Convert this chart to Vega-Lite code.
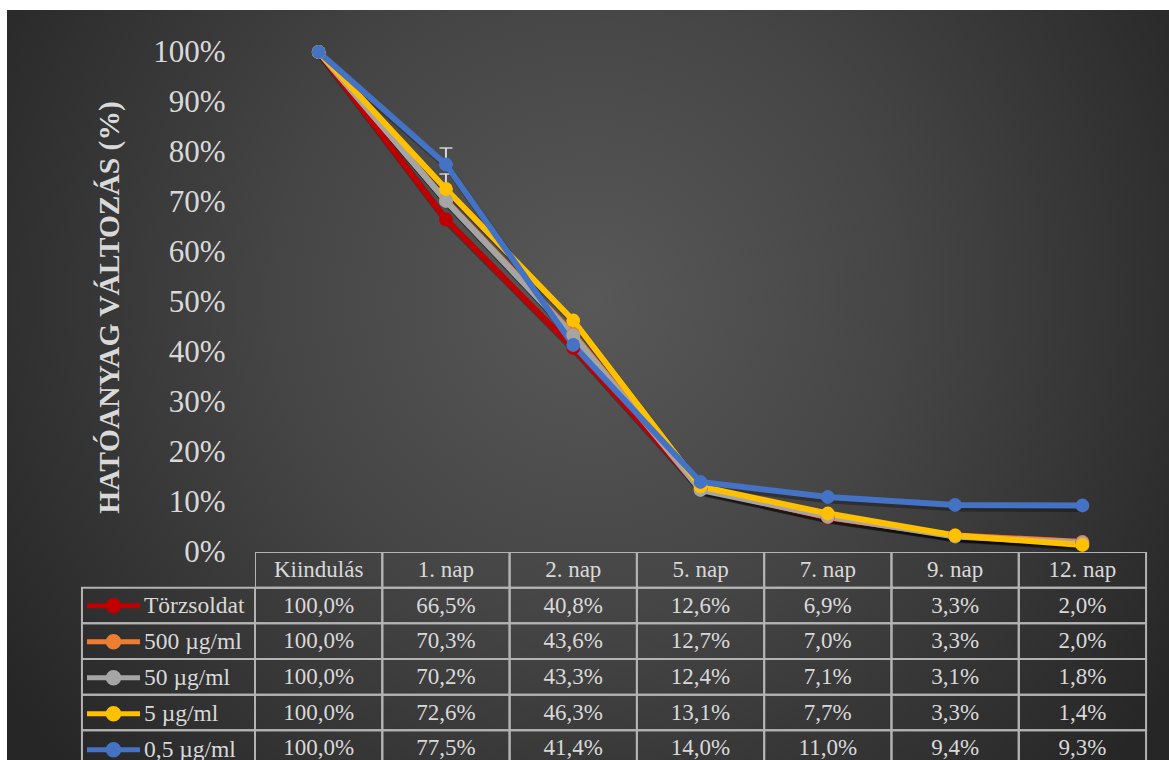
{
  "$schema": "https://vega.github.io/schema/vega-lite/v6.json",
  "background": "white",
  "padding": {"left": 7, "top": 10, "right": 0, "bottom": 0},
  "config": {
    "font": "Liberation Serif",
    "view": {"stroke": null},
    "locale": {"number": {"decimal": ",", "thousands": " ", "grouping": [3], "currency": ["", " Ft"]}}
  },
  "datasets": {
    "meres": [
      {"sorozat": "Törzsoldat", "nap": "Kiindulás", "ertek": 1.0},
      {"sorozat": "Törzsoldat", "nap": "1. nap", "ertek": 0.665},
      {"sorozat": "Törzsoldat", "nap": "2. nap", "ertek": 0.408},
      {"sorozat": "Törzsoldat", "nap": "5. nap", "ertek": 0.126},
      {"sorozat": "Törzsoldat", "nap": "7. nap", "ertek": 0.069},
      {"sorozat": "Törzsoldat", "nap": "9. nap", "ertek": 0.033},
      {"sorozat": "Törzsoldat", "nap": "12. nap", "ertek": 0.02},
      {"sorozat": "500 µg/ml", "nap": "Kiindulás", "ertek": 1.0},
      {"sorozat": "500 µg/ml", "nap": "1. nap", "ertek": 0.703},
      {"sorozat": "500 µg/ml", "nap": "2. nap", "ertek": 0.436},
      {"sorozat": "500 µg/ml", "nap": "5. nap", "ertek": 0.127},
      {"sorozat": "500 µg/ml", "nap": "7. nap", "ertek": 0.07},
      {"sorozat": "500 µg/ml", "nap": "9. nap", "ertek": 0.033},
      {"sorozat": "500 µg/ml", "nap": "12. nap", "ertek": 0.02},
      {"sorozat": "50 µg/ml", "nap": "Kiindulás", "ertek": 1.0},
      {"sorozat": "50 µg/ml", "nap": "1. nap", "ertek": 0.702},
      {"sorozat": "50 µg/ml", "nap": "2. nap", "ertek": 0.433},
      {"sorozat": "50 µg/ml", "nap": "5. nap", "ertek": 0.124},
      {"sorozat": "50 µg/ml", "nap": "7. nap", "ertek": 0.071},
      {"sorozat": "50 µg/ml", "nap": "9. nap", "ertek": 0.031},
      {"sorozat": "50 µg/ml", "nap": "12. nap", "ertek": 0.018},
      {"sorozat": "5 µg/ml", "nap": "Kiindulás", "ertek": 1.0},
      {"sorozat": "5 µg/ml", "nap": "1. nap", "ertek": 0.726},
      {"sorozat": "5 µg/ml", "nap": "2. nap", "ertek": 0.463},
      {"sorozat": "5 µg/ml", "nap": "5. nap", "ertek": 0.131},
      {"sorozat": "5 µg/ml", "nap": "7. nap", "ertek": 0.077},
      {"sorozat": "5 µg/ml", "nap": "9. nap", "ertek": 0.033},
      {"sorozat": "5 µg/ml", "nap": "12. nap", "ertek": 0.014},
      {"sorozat": "0,5 µg/ml", "nap": "Kiindulás", "ertek": 1.0},
      {"sorozat": "0,5 µg/ml", "nap": "1. nap", "ertek": 0.775},
      {"sorozat": "0,5 µg/ml", "nap": "2. nap", "ertek": 0.414},
      {"sorozat": "0,5 µg/ml", "nap": "5. nap", "ertek": 0.14},
      {"sorozat": "0,5 µg/ml", "nap": "7. nap", "ertek": 0.11},
      {"sorozat": "0,5 µg/ml", "nap": "9. nap", "ertek": 0.094},
      {"sorozat": "0,5 µg/ml", "nap": "12. nap", "ertek": 0.093}
    ],
    "hibak": [
      {"sorozat": "5 µg/ml", "nap": "1. nap", "ertek": 0.726, "felso": 0.756},
      {"sorozat": "0,5 µg/ml", "nap": "1. nap", "ertek": 0.775, "felso": 0.808}
    ]
  },
  "spacing": 0,
  "bounds": "flush",
  "resolve": {"scale": {"x": "independent", "y": "independent", "color": "shared"}},
  "hconcat": [
    {
      "width": 248,
      "height": 750,
      "view": {"stroke": null, "fill": {"gradient": "radial", "x1": 1.112, "y1": 0.3867, "r1": 0, "x2": 1.112, "y2": 0.3867, "r2": 0.9333,
        "stops": [{"offset": 0, "color": "#585858"}, {"offset": 0.45, "color": "#454545"}, {"offset": 1, "color": "#262626"}]}},
      "data": {"name": "meres"},
      "transform": [{"aggregate": [{"op": "count", "as": "db"}], "groupby": ["sorozat"]}],
      "mark": {"type": "rect", "filled": false, "stroke": "#b3b3b3", "strokeWidth": 2, "clip": true},
      "encoding": {
        "x": {"datum": "név", "type": "nominal", "scale": {"domain": ["név"], "paddingInner": 0, "paddingOuter": 0.2166, "align": 1}, "axis": null},
        "y": {"field": "sorozat", "type": "nominal",
          "scale": {"domain": ["fejléc", "Törzsoldat", "500 µg/ml", "50 µg/ml", "5 µg/ml", "0,5 µg/ml"], "range": [542, 756], "paddingInner": 0, "paddingOuter": 0},
          "axis": null}
      }
    },
    {
      "spacing": 0,
      "bounds": "flush",
      "resolve": {"scale": {"x": "independent", "y": "independent", "color": "shared"}},
      "vconcat": [
        {
          "width": 914,
          "height": 542,
          "view": {"stroke": null, "fill": {"gradient": "radial", "x1": 0.3665, "y1": 0.5208, "r1": 0, "x2": 0.3665, "y2": 0.5208, "r2": 0.7659,
            "stops": [{"offset": 0, "color": "#585858"}, {"offset": 0.45, "color": "#454545"}, {"offset": 1, "color": "#262626"}]}},
          "data": {"name": "meres"},
          "encoding": {
            "x": {
              "field": "nap", "type": "nominal",
              "sort": ["Kiindulás", "1. nap", "2. nap", "5. nap", "7. nap", "9. nap", "12. nap"],
              "scale": {"type": "band", "paddingInner": 0, "paddingOuter": 0.0901, "align": 0},
              "axis": null
            },
            "y": {
              "field": "ertek", "type": "quantitative",
              "scale": {"domain": [0, 1.084], "nice": false, "zero": true},
              "axis": {
                "values": [0, 0.1, 0.2, 0.3, 0.4, 0.5, 0.6, 0.7, 0.8, 0.9, 1],
                "format": ".0%",
                "domain": false, "ticks": false, "grid": false,
                "labelFont": "Liberation Serif", "labelFontSize": 31, "labelColor": "#d9d9d9",
                "labelPadding": 30, "labelFlush": false, "labelOverlap": false,
                "title": "HATÓANYAG VÁLTOZÁS (%)",
                "titleFont": "Liberation Serif", "titleFontSize": 29.5, "titleFontWeight": "bold",
                "titleColor": "#d9d9d9", "titlePadding": 28, "titleY": 297
              }
            }
          },
          "layer": [
            {
              "mark": {"type": "line", "strokeWidth": 7, "color": "black", "opacity": 0.3, "xOffset": 2, "yOffset": 3},
              "encoding": {"detail": {"field": "sorozat", "type": "nominal"}}
            },
            {
              "data": {"name": "hibak"},
              "mark": {"type": "errorbar", "ticks": true, "size": 13, "thickness": 2, "color": "#d9d9d9"},
              "encoding": {"y2": {"field": "felso"}}
            },
            {
              "mark": {"type": "line", "strokeWidth": 6, "point": {"filled": true, "size": 190, "opacity": 1}},
              "encoding": {
                "color": {
                  "field": "sorozat", "type": "nominal",
                  "scale": {
                    "domain": ["Törzsoldat", "500 µg/ml", "50 µg/ml", "5 µg/ml", "0,5 µg/ml"],
                    "range": ["#c00000", "#ed7d31", "#a5a5a5", "#ffc000", "#4472c4"]
                  },
                  "legend": {
                    "title": null, "orient": "none", "legendX": 77.5, "legendY": 578,
                    "padding": 0,
                    "symbolType": "M-2.65,0H2.65M-0.25,0A0.25,0.25,0,1,1,0.25,0A0.25,0.25,0,1,1,-0.25,0ZM-0.525,0A0.525,0.525,0,1,1,0.525,0A0.525,0.525,0,1,1,-0.525,0Z",
                    "symbolSize": 400, "symbolStrokeWidth": 5, "symbolOpacity": 1, "symbolOffset": 16.5,
                    "labelFont": "Liberation Serif", "labelFontSize": 23.5, "labelColor": "#d9d9d9",
                    "labelOffset": 18, "labelLimit": 220, "rowPadding": 0, "clipHeight": 35.67
                  }
                }
              }
            }
          ]
        },
        {
          "width": 914,
          "height": 208,
          "view": {"stroke": null, "fill": {"gradient": "radial", "x1": 0.3665, "y1": 0.1105, "r1": 0, "x2": 0.3665, "y2": 0.1105, "r2": 0.7659,
            "stops": [{"offset": 0, "color": "#585858"}, {"offset": 0.45, "color": "#454545"}, {"offset": 1, "color": "#262626"}]}},
          "data": {"name": "meres"},
          "encoding": {
            "x": {
              "field": "nap", "type": "nominal",
              "sort": ["Kiindulás", "1. nap", "2. nap", "5. nap", "7. nap", "9. nap", "12. nap"],
              "scale": {"type": "band", "paddingInner": 0, "paddingOuter": 0.0901, "align": 0},
              "axis": null
            }
          },
          "layer": [
            {
              "mark": {"type": "rect", "filled": false, "stroke": "#b3b3b3", "strokeWidth": 2, "clip": true},
              "encoding": {
                "y": {"field": "sorozat", "type": "nominal",
                  "scale": {"domain": ["fejléc", "Törzsoldat", "500 µg/ml", "50 µg/ml", "5 µg/ml", "0,5 µg/ml"], "range": [0, 214], "paddingInner": 0, "paddingOuter": 0},
                  "axis": null}
              }
            },
            {
              "mark": {"type": "text", "font": "Liberation Serif", "fontSize": 23, "color": "#d9d9d9", "clip": true},
              "encoding": {
                "y": {"field": "sorozat", "type": "nominal"},
                "text": {"field": "ertek", "type": "quantitative", "format": ".1%"}
              }
            },
            {
              "transform": [{"aggregate": [{"op": "count", "as": "db"}], "groupby": ["nap"]}],
              "layer": [
                {
                  "mark": {"type": "rect", "filled": false, "stroke": "#b3b3b3", "strokeWidth": 2, "clip": true},
                  "encoding": {"y": {"datum": "fejléc", "type": "nominal"}}
                },
                {
                  "mark": {"type": "text", "font": "Liberation Serif", "fontSize": 23, "color": "#d9d9d9", "clip": true},
                  "encoding": {"y": {"datum": "fejléc", "type": "nominal"}, "text": {"field": "nap", "type": "nominal"}}
                }
              ]
            }
          ]
        }
      ]
    }
  ]
}
